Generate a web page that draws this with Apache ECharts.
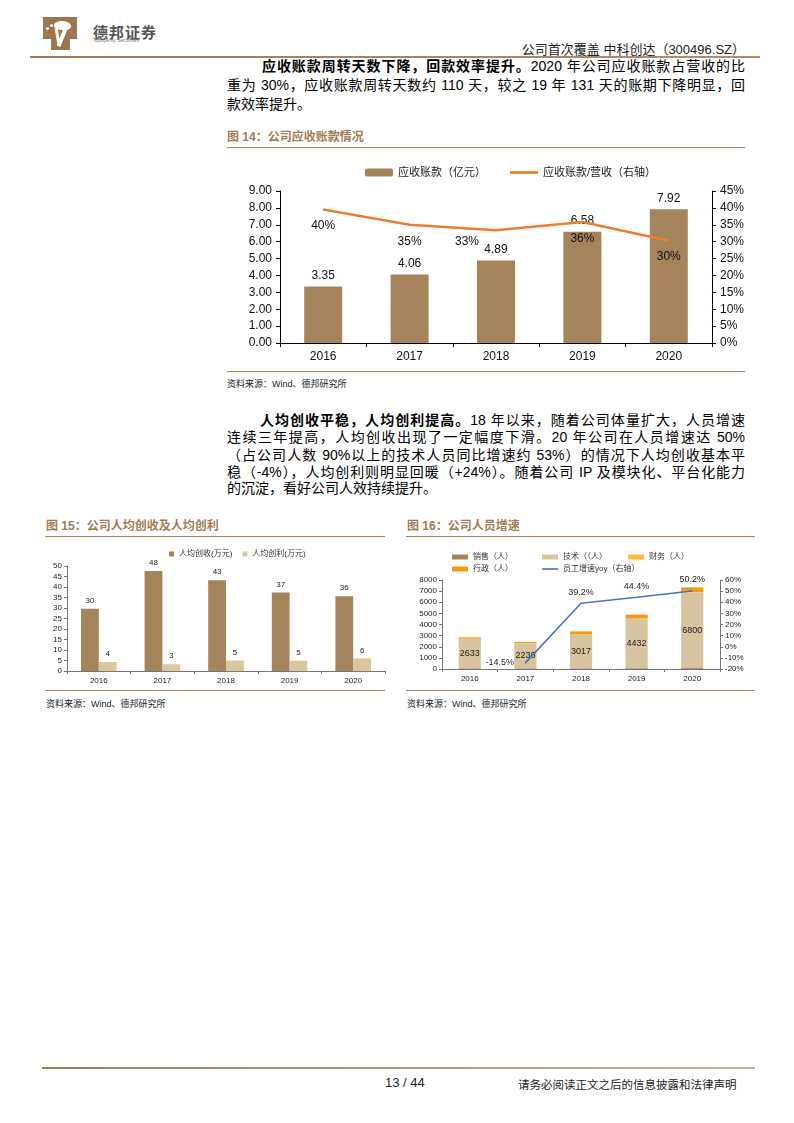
<!DOCTYPE html>
<html><head><meta charset="utf-8">
<script src="https://cdn.jsdelivr.net/npm/echarts@6/dist/echarts.min.js"></script>
<style>
html,body{margin:0;padding:0;background:#fff;}
body{width:794px;height:1123px;position:relative;overflow:hidden;font-family:"Liberation Sans","Noto Sans CJK SC",sans-serif;color:#000;}
.abs{position:absolute;}
.ln{position:absolute;height:18px;line-height:18px;font-size:14px;white-space:nowrap;text-align:justify;text-align-last:justify;}
.ln.last{text-align:left;text-align-last:left;}
.ttl{position:absolute;font-size:12px;font-weight:bold;color:#a27c55;white-space:nowrap;}
.rule{position:absolute;height:1px;background:#a88662;}
.src{position:absolute;font-size:9px;color:#222;white-space:nowrap;}
</style></head>
<body>
<!-- header -->
<div class="abs" style="left:43px;top:17px;width:34px;height:22px;background:#9c7650;"></div>
<div class="abs" style="left:51px;top:38px;width:19px;height:12px;background:#9c7650;"></div>
<div class="abs" style="left:54px;top:21px;width:17px;height:9px;background:#fff;border-radius:50% 60% 40% 50%;"></div>
<div class="abs" style="left:60px;top:28px;width:4px;height:19px;background:#fff;transform:rotate(22deg);"></div>
<div class="abs" style="left:56px;top:28px;width:3px;height:16px;background:#fff;transform:rotate(-10deg);"></div>
<div class="abs" style="left:46px;top:27px;width:3px;height:3px;background:#fff;border-radius:50%;"></div>
<div class="abs" style="left:50px;top:24px;width:3px;height:3px;background:#fff;border-radius:50%;"></div>
<div class="abs" style="left:93px;top:21px;font-size:15px;font-weight:bold;color:#555;letter-spacing:1px;">德邦证券</div>
<div class="abs" style="left:93px;top:37px;font-size:5px;color:#777;">Topsperity Securities</div>
<div class="abs" style="right:49px;top:39px;font-size:13px;color:#222;white-space:nowrap;">公司首次覆盖 中科创达（300496.SZ）</div>
<div class="abs" style="left:30px;top:56px;width:730px;height:2px;background:linear-gradient(90deg,#a07c55,#b08e6a);"></div>

<!-- paragraph 1 -->
<div class="ln" style="left:262px;top:57px;width:483px;"><b>应收账款周转天数下降，回款效率提升。</b>2020 年公司应收账款占营收的比</div>
<div class="ln" style="left:227px;top:76px;width:518px;">重为 30%，应收账款周转天数约 110 天，较之 19 年 131 天的账期下降明显，回</div>
<div class="ln last" style="left:227px;top:95px;">款效率提升。</div>

<!-- figure 14 -->
<div class="ttl" style="left:227px;top:127px;">图 14：公司应收账款情况</div>
<div class="rule" style="left:227px;top:147px;width:518px;"></div>
<div id="c14" class="abs" style="left:227px;top:150px;width:520px;height:218px;"></div>
<div class="rule" style="left:227px;top:371px;width:518px;"></div>
<div class="src" style="left:227px;top:377px;">资料来源：Wind、德邦研究所</div>

<!-- paragraph 2 -->
<div class="ln" style="left:260px;top:411px;width:485px;"><b>人均创收平稳，人均创利提高。</b>18 年以来，随着公司体量扩大，人员增速</div>
<div class="ln" style="left:227px;top:428px;width:518px;">连续三年提高，人均创收出现了一定幅度下滑。20 年公司在人员增速达 50%</div>
<div class="ln" style="left:227px;top:446px;width:518px;">（占公司人数 90%以上的技术人员同比增速约 53%）的情况下人均创收基本平</div>
<div class="ln" style="left:227px;top:463px;width:518px;">稳（-4%），人均创利则明显回暖（+24%）。随着公司 IP 及模块化、平台化能力</div>
<div class="ln last" style="left:227px;top:479px;">的沉淀，看好公司人效持续提升。</div>

<!-- figure 15 -->
<div class="ttl" style="left:46px;top:516px;">图 15：公司人均创收及人均创利</div>
<div class="rule" style="left:45px;top:536px;width:340px;"></div>
<div id="c15" class="abs" style="left:40px;top:540px;width:350px;height:150px;"></div>
<div class="rule" style="left:45px;top:690px;width:340px;"></div>
<div class="src" style="left:46px;top:697px;">资料来源：Wind、德邦研究所</div>

<!-- figure 16 -->
<div class="ttl" style="left:407px;top:516px;">图 16：公司人员增速</div>
<div class="rule" style="left:406px;top:536px;width:349px;"></div>
<div id="c16" class="abs" style="left:400px;top:540px;width:360px;height:150px;"></div>
<div class="rule" style="left:406px;top:690px;width:349px;"></div>
<div class="src" style="left:407px;top:697px;">资料来源：Wind、德邦研究所</div>

<!-- footer -->
<div class="abs" style="left:42px;top:1067px;width:713px;height:2px;background:linear-gradient(90deg,#a07c55,#c8b29a);"></div>
<div class="abs" style="left:385px;top:1075px;font-size:13px;color:#222;">13 / 44</div>
<div class="abs" style="left:518px;top:1076px;font-size:11.5px;color:#222;white-space:nowrap;">请务必阅读正文之后的信息披露和法律声明</div>

<script>
// ---------- data ----------
const years = ['2016', '2017', '2018', '2019', '2020'];
// Fig 14
const arValues = [3.35, 4.06, 4.89, 6.58, 7.92];          // 应收账款（亿元）
const arRatio = [39.5, 35.0, 33.4, 35.8, 30.3];           // 应收账款/营收（%）
const arLeftTicks = [0, 9, 1];
const arRightTicks = [0, 45, 5];
// Fig 15
const revPerCap = [29.6, 47.6, 43.2, 37.4, 35.6];         // 人均创收(万元)
const profitPerCap = [4.3, 3.2, 5.0, 4.9, 6.0];           // 人均创利(万元)
// Fig 16
const staffSales = [60, 60, 60, 70, 80];                  // 销售（人）
const staffTech = [2633, 2230, 3017, 4432, 6800];         // 技术（人）
const staffFin = [30, 30, 30, 35, 40];                    // 财务（人）
const staffAdmin = [122, 112, 278, 351, 422];             // 行政（人）
const staffYoy = [null, -14.5, 39.2, 44.4, 50.2];         // 员工增速yoy（%）

const FONT = '"Liberation Sans","Noto Sans CJK SC",sans-serif';
const BROWN = '#a5835b', TAN = '#d8c69f';
const LINE_ICON = 'path://M0 0H40V4H0Z';

// ---------- Fig 14 ----------
const c14 = echarts.init(document.getElementById('c14'));
c14.setOption({
  animation: false,
  textStyle: {fontFamily: FONT},
  legend: {
    left: 133, top: 12, itemGap: 24, itemWidth: 28, itemHeight: 8,
    textStyle: {fontSize: 11, color: '#222', fontFamily: FONT},
    data: [{name: '应收账款（亿元）', icon: 'roundRect'}, {name: '应收账款/营收（右轴）', icon: LINE_ICON}]
  },
  grid: {left: 53, right: 35, top: 41, bottom: 25},
  xAxis: {
    type: 'category', data: years,
    axisLine: {lineStyle: {color: '#000', width: 1}},
    axisTick: {show: true, length: 4, lineStyle: {color: '#000'}},
    axisLabel: {fontSize: 12, color: '#111', margin: 8, fontFamily: FONT}
  },
  yAxis: [{
    type: 'value', min: arLeftTicks[0], max: arLeftTicks[1], interval: arLeftTicks[2],
    axisLine: {show: true, lineStyle: {color: '#000'}},
    axisTick: {show: true, length: 4, lineStyle: {color: '#000'}},
    splitLine: {show: false},
    axisLabel: {fontSize: 12, color: '#111', margin: 8, formatter: v => v.toFixed(2), fontFamily: FONT}
  }, {
    type: 'value', min: arRightTicks[0], max: arRightTicks[1], interval: arRightTicks[2],
    axisLine: {show: true, lineStyle: {color: '#000'}},
    axisTick: {show: true, length: 4, lineStyle: {color: '#000'}},
    splitLine: {show: false},
    axisLabel: {fontSize: 12, color: '#111', margin: 8, formatter: v => v + '%', fontFamily: FONT}
  }],
  series: [{
    name: '应收账款（亿元）', type: 'bar', data: arValues, barWidth: '44%',
    itemStyle: {color: BROWN},
    label: {show: true, position: 'top', distance: 5, fontSize: 12, color: '#111', formatter: p => p.value.toFixed(2)}
  }, {
    name: '应收账款/营收（右轴）', type: 'line', yAxisIndex: 1,
    data: arRatio.map((v, i) => i === 2 ? {value: v, label: {offset: [-29, -5]}} : v),
    symbol: 'circle', symbolSize: 1, showSymbol: true,
    lineStyle: {color: '#ed7d31', width: 2.5}, itemStyle: {color: '#ed7d31'},
    label: {show: true, position: 'bottom', distance: 10, fontSize: 12, color: '#111', formatter: p => Math.round(p.value) + '%'}
  }]
});

// ---------- Fig 15 ----------
const c15 = echarts.init(document.getElementById('c15'));
c15.setOption({
  animation: false,
  textStyle: {fontFamily: FONT},
  legend: {
    left: 124, top: 5, itemGap: 10, itemWidth: 5, itemHeight: 5, icon: 'rect',
    textStyle: {fontSize: 8, color: '#333', fontFamily: FONT},
    data: ['人均创收(万元)', '人均创利(万元)']
  },
  grid: {left: 27, right: 5, top: 26, bottom: 19},
  xAxis: {
    type: 'category', data: years,
    axisLine: {lineStyle: {color: '#777'}},
    axisTick: {show: true, length: 3, lineStyle: {color: '#777'}},
    axisLabel: {fontSize: 8, color: '#222', margin: 6}
  },
  yAxis: {
    type: 'value', min: 0, max: 50, interval: 5,
    axisLine: {show: true, lineStyle: {color: '#777'}},
    axisTick: {show: true, length: 3, lineStyle: {color: '#777'}},
    splitLine: {show: false},
    axisLabel: {fontSize: 8, color: '#222', margin: 5}
  },
  series: [{
    name: '人均创收(万元)', type: 'bar', data: revPerCap, barGap: '0%', barCategoryGap: '44%',
    itemStyle: {color: BROWN},
    label: {show: true, position: 'top', distance: 4, fontSize: 8, color: '#222', formatter: p => Math.round(p.value)}
  }, {
    name: '人均创利(万元)', type: 'bar', data: profitPerCap,
    itemStyle: {color: TAN},
    label: {show: true, position: 'top', distance: 4, fontSize: 8, color: '#222', formatter: p => Math.round(p.value)}
  }]
});

// ---------- Fig 16 ----------
const c16 = echarts.init(document.getElementById('c16'));
const lgBase = {itemWidth: 16, itemHeight: 5, icon: 'rect', textStyle: {fontSize: 8, color: '#333', fontFamily: FONT}};
c16.setOption({
  animation: false,
  textStyle: {fontFamily: FONT},
  legend: [
    Object.assign({left: 47, top: 8, data: ['销售（人）']}, lgBase),
    Object.assign({left: 137, top: 8, data: ['技术（（人）']}, lgBase),
    Object.assign({left: 223, top: 8, data: ['财务（人）']}, lgBase),
    Object.assign({left: 47, top: 20, data: ['行政（人）']}, lgBase),
    Object.assign({}, lgBase, {left: 137, top: 20, icon: LINE_ICON, itemHeight: 5, data: ['员工增速yoy（右轴）']})
  ],
  grid: {left: 42, right: 40, top: 40, bottom: 21},
  xAxis: {
    type: 'category', data: years,
    axisLine: {lineStyle: {color: '#777'}},
    axisTick: {show: true, length: 3, lineStyle: {color: '#777'}},
    axisLabel: {fontSize: 8, color: '#222', margin: 6}
  },
  yAxis: [{
    type: 'value', min: 0, max: 8000, interval: 1000,
    axisLine: {show: true, lineStyle: {color: '#777'}},
    axisTick: {show: true, length: 3, lineStyle: {color: '#777'}},
    splitLine: {show: false},
    axisLabel: {fontSize: 8, color: '#222', margin: 5, formatter: v => String(v)}
  }, {
    type: 'value', min: -20, max: 60, interval: 10,
    axisLine: {show: true, lineStyle: {color: '#777'}},
    axisTick: {show: true, length: 3, lineStyle: {color: '#777'}},
    splitLine: {show: false},
    axisLabel: {fontSize: 8, color: '#222', margin: 5, formatter: v => v + '%'}
  }],
  series: [
    {name: '销售（人）', type: 'bar', stack: 's', data: staffSales, barWidth: '40%', itemStyle: {color: BROWN}},
    {name: '技术（（人）', type: 'bar', stack: 's', data: staffTech, itemStyle: {color: '#d6c59e'},
      label: {show: true, position: 'inside', fontSize: 9, color: '#222', formatter: p => String(p.value)}},
    {name: '财务（人）', type: 'bar', stack: 's', data: staffFin, itemStyle: {color: '#fbbd3b'}},
    {name: '行政（人）', type: 'bar', stack: 's', data: staffAdmin, itemStyle: {color: '#f39a1a'}},
    {name: '员工增速yoy（右轴）', type: 'line', yAxisIndex: 1,
      data: staffYoy.map((v, i) => i === 1 ? {value: v, label: {position: 'left', distance: 11}} : v),
      symbol: 'circle', symbolSize: 1, showSymbol: true,
      lineStyle: {color: '#4472c4', width: 1.5}, itemStyle: {color: '#4472c4'},
      label: {show: true, position: 'top', distance: 6, fontSize: 9, color: '#222', formatter: p => p.value + '%'}}
  ]
});
</script>
</body></html>
